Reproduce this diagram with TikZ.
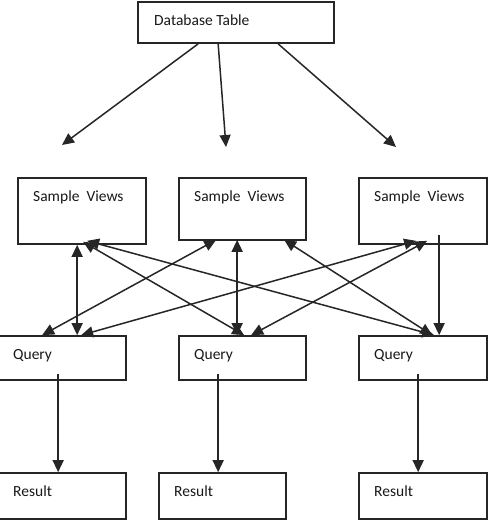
\documentclass[tikz,border=0pt]{standalone}
\usepackage{fontspec}
\setmainfont{Carlito}
\usetikzlibrary{arrows.meta,calc}
\begin{document}
\begin{tikzpicture}[x=1pt,y=-1pt,
  box/.style={draw=black!85,line width=1.7pt,minimum width=#1,inner sep=0pt,fill=white},
  lbl/.style={anchor=base west,inner sep=0pt,font=\fontsize{15.5}{18}\selectfont,text=black!90},
  conn/.style={line width=1.5pt,draw=black!85,-{Triangle[length=12pt,width=11pt]}},
  dconn/.style={line width=1.5pt,draw=black!85,{Triangle[length=12pt,width=11pt]}-{Triangle[length=12pt,width=11pt]}}]
\useasboundingbox (0,0) rectangle (491,525);
% boxes
\node[box=196pt,minimum height=41pt] (db) at (236,22.5) {};
\node[box=128pt,minimum height=66pt] (sv1) at (82,211) {};
\node[box=127pt,minimum height=62pt] (sv2) at (242.5,209) {};
\node[box=128pt,minimum height=66pt] (sv3) at (423,211) {};
\node[box=129pt,minimum height=44pt] (q1) at (61.5,358) {};
\node[box=127pt,minimum height=44pt] (q2) at (242.5,358) {};
\node[box=128pt,minimum height=44pt] (q3) at (423,358) {};
\node[box=129pt,minimum height=46pt] (r1) at (61.5,496) {};
\node[box=127pt,minimum height=46pt] (r2) at (222.5,496) {};
\node[box=128pt,minimum height=46pt] (r3) at (423,496) {};
% labels
\node[lbl] (tdb) at (154,25) {Database Table};
\node[lbl] (tsv1) at (33,201) {Sample\ \ Views};
\node[lbl] (tsv2) at (194,201) {Sample\ \ Views};
\node[lbl] (tsv3) at (374,201) {Sample\ \ Views};
\node[lbl] (tq1) at (13,359) {Query};
\node[lbl] (tq2) at (194,359) {Query};
\node[lbl] (tq3) at (374,359) {Query};
\node[lbl] (tr1) at (13,496) {Result};
\node[lbl] (tr2) at (174,496) {Result};
\node[lbl] (tr3) at (374,496) {Result};
% free ends of database arrows
\coordinate (e1) at (62,145);
\coordinate (e2) at (226,147);
\coordinate (e3) at (396,147);
\draw[conn] ($(db.south west)+(61,0)$) -- (e1);
\draw[conn] ($(db.south west)+(81,0)$) -- (e2);
\draw[conn] ($(db.south west)+(141,0)$) -- (e3);
% sample views <-> query
\draw[dconn] ($(sv1.south west)+(60,0)$) -- ($(q1.north west)+(81,0)$);
\draw[dconn] ($(sv1.south west)+(66,-3)$) -- ($(q2.north west)+(66,0)$);
\draw[dconn] ($(sv1.south west)+(70,-4)$) -- ($(q3.north west)+(76,0)$);
\draw[dconn] ($(sv2.south west)+(38,-1)$) -- ($(q1.north west)+(46,0)$);
\draw[dconn] ($(sv2.south west)+(59,-1)$) -- ($(q2.north west)+(59,0)$);
\draw[dconn] ($(sv2.south west)+(106,-1)$) -- ($(q3.north west)+(74,0)$);
\draw[dconn] ($(sv3.south west)+(58,-4)$) -- ($(q1.north west)+(85,0)$);
\draw[dconn] ($(sv3.south west)+(69,-4)$) -- ($(q2.north west)+(73,0)$);
\draw[conn] ($(sv3.south west)+(81,-10)$) -- ($(q3.north west)+(81,0)$);
% query -> result
\draw[conn] ($(q1.south west)+(62,-7)$) -- ($(r1.north west)+(62,0)$);
\draw[conn] ($(q2.south west)+(40,-7)$) -- ($(r2.north west)+(60,0)$);
\draw[conn] ($(q3.south west)+(60,-7)$) -- ($(r3.north west)+(60,0)$);
\end{tikzpicture}
\end{document}
